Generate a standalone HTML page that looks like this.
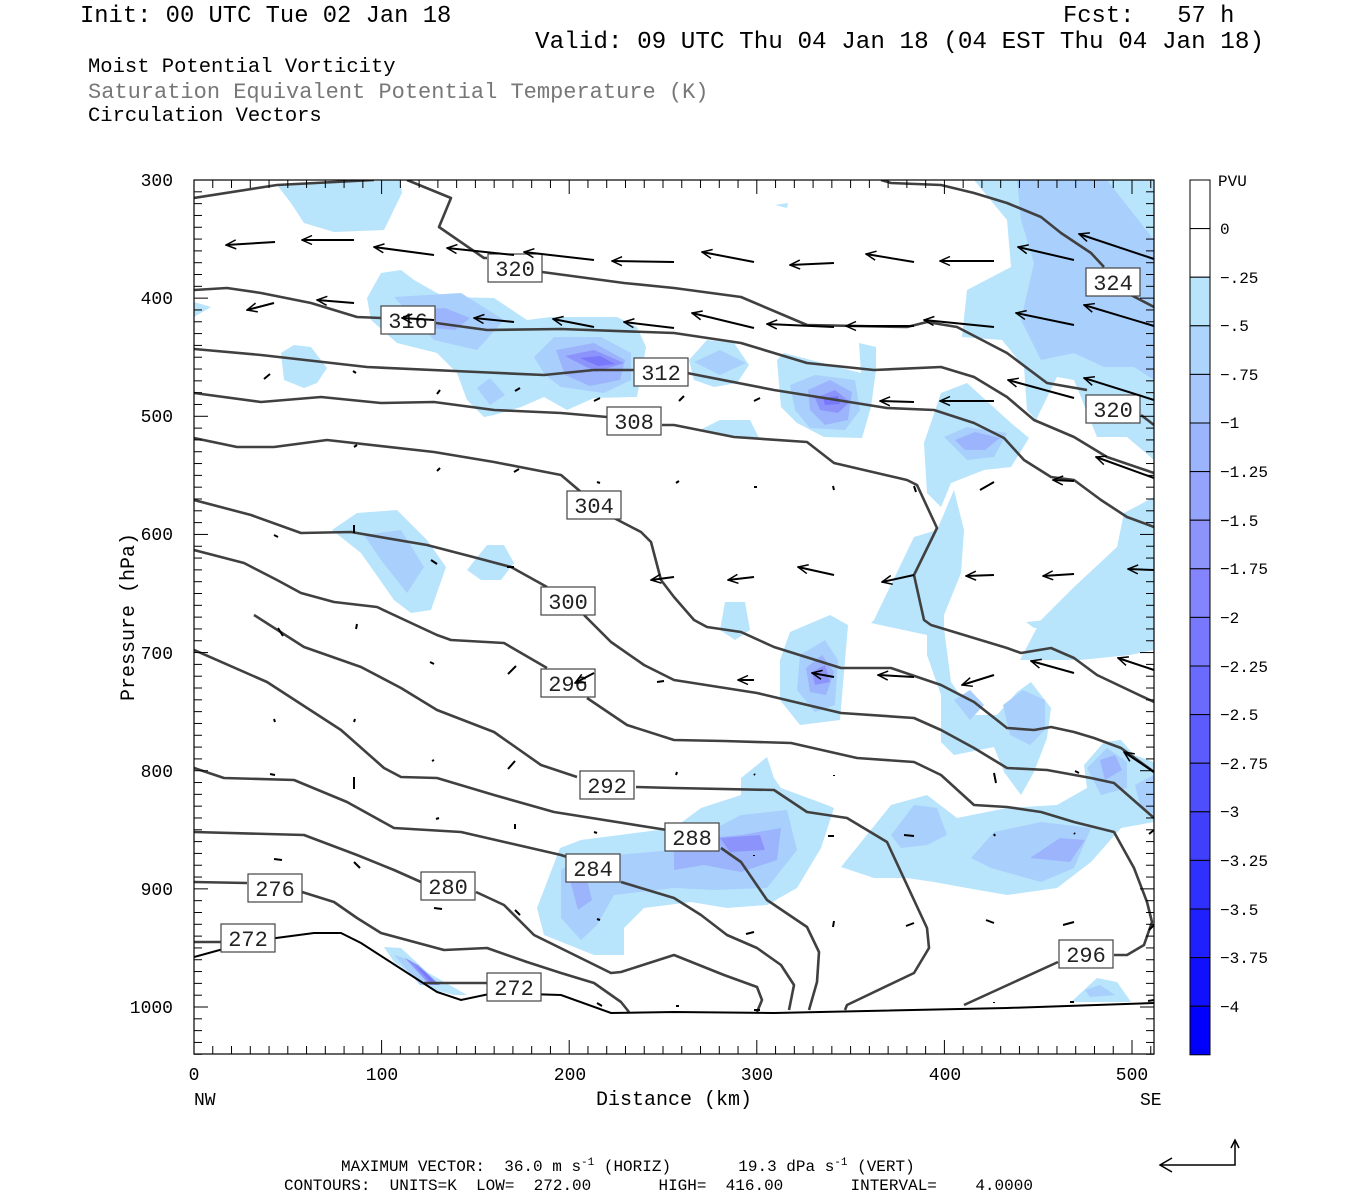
<!DOCTYPE html>
<html><head><meta charset="utf-8"><style>
html,body{margin:0;padding:0;background:#fff;}
body{width:1350px;height:1200px;position:relative;overflow:hidden;font-family:"Liberation Mono",monospace;}
.t{position:absolute;white-space:pre;color:#000;}
</style></head><body>
<div class="t" style="left:80px;top:3px;font-size:23.8px;">Init: 00 UTC Tue 02 Jan 18</div>
<div class="t" style="left:1063px;top:3px;font-size:23.8px;">Fcst:   57 h</div>
<div class="t" style="left:535px;top:29px;font-size:24.3px;">Valid: 09 UTC Thu 04 Jan 18 (04 EST Thu 04 Jan 18)</div>
<div class="t" style="left:88px;top:56px;font-size:20.5px;">Moist Potential Vorticity</div>
<div class="t" style="left:88px;top:80px;font-size:22px;color:#777;">Saturation Equivalent Potential Temperature (K)</div>
<div class="t" style="left:88px;top:105px;font-size:20.5px;">Circulation Vectors</div>

<svg width="1350" height="1200" style="position:absolute;left:0;top:0" xmlns="http://www.w3.org/2000/svg">
<defs>
<marker id="ah" markerWidth="12" markerHeight="12" refX="11" refY="5" orient="auto" markerUnits="userSpaceOnUse" viewBox="0 0 12 10">
<path d="M1,0.5 L11,5 L1,9.5" fill="none" stroke="#000" stroke-width="1.5"/>
</marker>
</defs>
<clipPath id="pc"><rect x="194" y="180" width="960" height="874"/></clipPath>
<g clip-path="url(#pc)" stroke="none">
<g fill="#b8e4fc">
<polygon points="277,185 400,180 402,193 384,230 334,232 304,223 291,203"/>
<polygon points="367,298 381,273 401,270 414,280 444,297 494,298 527,320 551,317 617,317 637,327 646,347 637,397 594,398 567,410 544,397 521,407 494,415 484,417 467,400 457,373 437,353 397,343 371,320"/>
<polygon points="194,302 211,307 194,317"/>
<polygon points="281,353 294,345 311,347 327,368 317,383 304,388 284,380"/>
<polygon points="332,530 357,513 397,510 427,540 446,567 431,610 411,613 394,600 361,553"/>
<polygon points="467,570 487,545 504,545 514,563 501,580 481,580"/>
<polygon points="689,360 707,340 734,343 749,365 737,383 714,387 694,380"/>
<polygon points="777,360 784,353 861,373 859,343 876,347 876,370 871,407 862,438 824,437 797,423 781,407"/>
<polygon points="974,180 1154,180 1154,460 1127,437 1097,437 1074,380 1057,377 1036,420 1027,410 1024,367 1002,340 962,337 967,290 1011,267 1007,220"/>
<polygon points="924,443 941,393 967,383 1011,423 1029,438 1011,467 984,470 951,483 941,507 927,493"/>
<polygon points="874,620 914,537 937,530 954,490 964,530 961,573 944,615 944,628 951,682 974,715 997,715 1017,692 1031,682 1051,708 1047,738 1034,772 1021,795 1004,772 994,747 954,755 941,742 941,695 927,655 927,635 871,623"/>
<polygon points="1154,497 1124,513 1117,547 1074,587 1041,620 1020,660 1080,660 1130,655 1154,650"/>
<polygon points="1026,622 1097,615 1094,626 1034,628"/>
<polygon points="841,867 891,805 927,795 957,818 1007,808 1057,805 1087,788 1084,765 1104,742 1121,740 1134,755 1154,762 1154,822 1121,828 1091,862 1057,888 1007,895 967,888 934,882 907,878 874,878"/>
<polygon points="537,908 560,848 581,840 674,828 701,808 741,795 741,778 767,757 774,778 781,788 827,805 834,808 821,848 797,888 767,905 727,908 691,902 644,908 624,928 624,955 594,955 544,935"/>
<polygon points="384,947 401,948 427,972 467,995 454,995 434,990 394,962"/>
<polygon points="1071,1002 1097,978 1117,982 1131,1002"/>
<polygon points="725,602 745,602 750,630 735,640 720,630"/>
<polygon points="790,632 830,615 848,625 840,720 800,725 780,700 780,660"/>
<polygon points="775,205 788,203 787,208"/>
<polygon points="700,430 720,420 750,420 760,440"/>
</g>
<g fill="#a9cffc">
<polygon points="394,297 461,293 504,320 477,350 434,340"/>
<polygon points="534,357 554,337 601,337 631,353 631,380 604,393 561,387 545,375"/>
<polygon points="477,388 490,378 505,395 490,405"/>
<polygon points="364,535 401,530 424,567 407,593 381,560"/>
<polygon points="694,362 720,350 746,363 720,375"/>
<polygon points="790,385 815,375 855,380 860,410 845,430 810,428 795,410"/>
<polygon points="1017,180 1107,180 1154,240 1154,380 1134,367 1104,367 1074,353 1041,360 1021,320 1034,263 1021,220"/>
<polygon points="944,437 967,427 1007,433 994,457 967,460"/>
<polygon points="954,700 970,690 984,705 970,720"/>
<polygon points="1003,705 1023,690 1045,700 1045,730 1030,745 1010,735"/>
<polygon points="891,835 914,805 937,808 947,835 927,845 901,848"/>
<polygon points="971,858 994,832 1041,822 1091,828 1074,868 1041,882 991,868"/>
<polygon points="1087,768 1107,748 1127,762 1127,788 1101,795"/>
<polygon points="1135,785 1154,775 1154,815 1140,805"/>
<polygon points="561,870 581,858 674,850 741,815 787,810 797,850 767,888 714,890 674,888 614,895 597,925 581,940 561,918"/>
<polygon points="394,955 410,960 440,985 420,985"/>
<polygon points="800,655 825,640 838,660 835,705 815,712 797,690"/>
<polygon points="1085,990 1100,985 1115,995 1090,997"/>
</g>
<g fill="#9cb4fc">
<polygon points="420,310 445,308 470,318 455,330 430,328"/>
<polygon points="556,350 594,343 625,360 620,380 590,386 565,375"/>
<polygon points="808,390 830,380 852,392 848,420 825,425 810,410"/>
<polygon points="955,440 975,432 1000,438 985,450 965,450"/>
<polygon points="1100,760 1115,755 1122,770 1105,780"/>
<polygon points="741,835 781,828 777,860 741,872 704,865 674,870 674,850 710,838"/>
<polygon points="570,880 585,872 592,900 578,910"/>
<polygon points="1030,858 1060,838 1085,840 1070,862"/>
<polygon points="806,668 822,655 834,672 826,695 810,692"/>
</g>
<g fill="#8c94fc">
<polygon points="565,356 594,350 624,363 596,372"/>
<polygon points="815,398 835,390 850,402 838,413 820,410"/>
<polygon points="812,672 825,665 830,682 815,685"/>
<polygon points="720,838 760,835 765,850 730,852"/>
<polygon points="405,958 418,965 440,985 430,985"/>
</g>
<g fill="#7878fa">
<polygon points="580,358 600,356 615,364 598,366"/>
<polygon points="823,398 838,396 840,404 825,405"/>
<polygon points="415,965 425,972 438,985 432,984"/>
</g>
</g>

<g fill="none" stroke="#404040" stroke-width="2.6" stroke-linejoin="round" clip-path="url(#pc)">
<polyline points="194,198 277,185 374,180"/>
<polyline points="407,180 451,198 439,227 484,258 487,258"/>
<polyline points="542,272 624,283 674,288 741,297 807,325 907,327 927,322 957,327 1007,353 1047,383 1087,390 1087,390"/>
<polyline points="1141,415 1154,425"/>
<polyline points="881,180 891,183 941,185 974,193 1007,203 1041,217 1061,233 1091,253 1104,267"/>
<polyline points="1131,295 1154,307"/>
<polyline points="194,290 227,288 261,293 311,303 357,317 381,318"/>
<polyline points="436,323 487,330 561,329 674,333 741,343 807,363 874,370 941,367 974,377 1007,397 1034,420 1074,437 1107,457 1154,473"/>
<polyline points="194,349 261,355 367,367 477,372 544,375 594,370 634,370"/>
<polyline points="687,373 774,390 887,408 934,410 974,423 1004,438 1024,460 1051,477 1074,480 1101,500 1127,517 1154,527"/>
<polyline points="194,393 261,402 321,397 381,403 434,402 494,410 561,413 607,417"/>
<polyline points="662,425 674,425 734,437 807,442 834,463 907,480 917,485 937,528 914,575 924,620 931,625 1007,648 1021,653 1051,648 1074,658 1097,675 1154,702"/>
<polyline points="194,438 237,447 274,447 327,440 434,452 494,462 561,475 581,492"/>
<polyline points="614,518 641,532 651,542 661,580 674,597 694,620 707,627 741,632 774,647 841,668 891,668 941,685 974,702 1007,728 1034,730 1051,727 1074,732 1094,738 1121,748 1154,772"/>
<polyline points="194,500 251,515 301,533 351,532 427,545 477,558 511,567 547,587"/>
<polyline points="584,615 611,642 644,665 674,680 757,693 841,713 914,718 941,730 974,748 1007,768 1047,770 1091,778 1114,783 1154,818"/>
<polyline points="194,550 244,563 277,580 301,593 334,602 377,607 394,615 437,635 451,640 504,643 547,668"/>
<polyline points="587,698 627,725 674,740 724,741 791,743 857,758 914,762 941,775 974,805 1007,807 1041,812 1074,822 1114,832 1134,868 1147,902 1152,922 1144,945 1127,955 1114,955"/>
<polyline points="1058,962 964,1005"/>
<polyline points="254,615 304,647 361,667 401,688 437,710 494,732 541,765 577,777"/>
<polyline points="636,787 674,788 774,790 807,812 847,818 887,842 927,928 929,948 914,973 847,1005 845,1010"/>
<polyline points="194,650 267,682 341,730 384,768 401,777 437,778 494,795 554,812 667,830"/>
<polyline points="721,848 741,862 767,900 807,927 819,952 817,982 809,1010"/>
<polyline points="194,768 224,778 294,780 347,802 394,828 461,832 561,855 567,857"/>
<polyline points="621,882 674,898 701,915 727,935 757,948 781,965 794,985 789,1010"/>
<polyline points="194,832 304,835 357,855 394,870 421,882"/>
<polyline points="476,892 504,905 534,935 611,973 621,972 674,955 724,975 757,987 762,1000 757,1012"/>
<polyline points="194,882 247,883"/>
<polyline points="302,892 334,902 357,918 381,933 444,950 487,948 527,962 561,973 594,983 621,1002 629,1012"/>
<polyline points="194,942 221,942"/>
<polyline points="424,983 487,983"/>
</g>
<g fill="none" stroke="#000" stroke-width="2" clip-path="url(#pc)">
<polyline points="194,957 227,948 261,940 314,933 341,933 361,943 437,992 461,1000 494,993 561,995 611,1013 674,1012 774,1013 1007,1008 1154,1003"/>
</g>

<g font-family="Liberation Mono, monospace" font-size="22" text-anchor="middle" fill="#222">
<g fill="#fff" stroke="#444" stroke-width="1.2">
<rect x="488" y="254" width="54" height="28"/>
<rect x="1086" y="268" width="54" height="28"/>
<rect x="381" y="306" width="54" height="28"/>
<rect x="634" y="358" width="54" height="28"/>
<rect x="1086" y="395" width="54" height="28"/>
<rect x="607" y="407" width="54" height="28"/>
<rect x="567" y="491" width="54" height="28"/>
<rect x="541" y="587" width="54" height="28"/>
<rect x="541" y="669" width="54" height="28"/>
<rect x="580" y="771" width="54" height="28"/>
<rect x="665" y="823" width="54" height="28"/>
<rect x="566" y="854" width="54" height="28"/>
<rect x="421" y="872" width="54" height="28"/>
<rect x="248" y="874" width="54" height="28"/>
<rect x="221" y="924" width="54" height="28"/>
<rect x="1059" y="940" width="54" height="28"/>
<rect x="487" y="973" width="54" height="28"/>
</g>
<text x="515" y="276">320</text>
<text x="1113" y="290">324</text>
<text x="408" y="328">316</text>
<text x="661" y="380">312</text>
<text x="1113" y="417">320</text>
<text x="634" y="429">308</text>
<text x="594" y="513">304</text>
<text x="568" y="609">300</text>
<text x="568" y="691">296</text>
<text x="607" y="793">292</text>
<text x="692" y="845">288</text>
<text x="593" y="876">284</text>
<text x="448" y="894">280</text>
<text x="275" y="896">276</text>
<text x="248" y="946">272</text>
<text x="1086" y="962">296</text>
<text x="514" y="995">272</text>
</g>

<g stroke="#000" stroke-width="2" fill="none" marker-end="url(#ah)">
<line x1="275" y1="242" x2="226" y2="245"/>
<line x1="354" y1="240" x2="302" y2="240"/>
<line x1="434" y1="255" x2="374" y2="247"/>
<line x1="514" y1="255" x2="447" y2="248"/>
<line x1="594" y1="260" x2="524" y2="252"/>
<line x1="674" y1="262" x2="612" y2="261"/>
<line x1="754" y1="262" x2="702" y2="252"/>
<line x1="834" y1="263" x2="790" y2="265"/>
<line x1="914" y1="262" x2="866" y2="254"/>
<line x1="994" y1="261" x2="940" y2="261"/>
<line x1="1074" y1="260" x2="1018" y2="247"/>
<line x1="1154" y1="259" x2="1079" y2="234"/>
<line x1="274" y1="303" x2="247" y2="310"/>
<line x1="354" y1="303" x2="317" y2="300"/>
<line x1="434" y1="320" x2="402" y2="318"/>
<line x1="514" y1="322" x2="474" y2="318"/>
<line x1="594" y1="327" x2="553" y2="319"/>
<line x1="674" y1="328" x2="624" y2="322"/>
<line x1="754" y1="328" x2="692" y2="313"/>
<line x1="834" y1="327" x2="767" y2="324"/>
<line x1="914" y1="326" x2="846" y2="326"/>
<line x1="994" y1="327" x2="924" y2="320"/>
<line x1="1074" y1="325" x2="1016" y2="313"/>
<line x1="1154" y1="326" x2="1084" y2="305"/>
<line x1="914" y1="402" x2="880" y2="401"/>
<line x1="994" y1="401" x2="940" y2="401"/>
<line x1="1074" y1="398" x2="1008" y2="380"/>
<line x1="1154" y1="400" x2="1084" y2="378"/>
<line x1="1154" y1="478" x2="1096" y2="457"/>
<line x1="1074" y1="481" x2="1053" y2="480"/>
<line x1="674" y1="577" x2="651" y2="580"/>
<line x1="754" y1="577" x2="728" y2="580"/>
<line x1="834" y1="575" x2="798" y2="567"/>
<line x1="914" y1="575" x2="882" y2="582"/>
<line x1="994" y1="575" x2="966" y2="576"/>
<line x1="1074" y1="574" x2="1043" y2="576"/>
<line x1="1154" y1="570" x2="1128" y2="569"/>
<line x1="754" y1="680" x2="738" y2="680"/>
<line x1="834" y1="677" x2="812" y2="673"/>
<line x1="914" y1="677" x2="878" y2="675"/>
<line x1="994" y1="675" x2="962" y2="685"/>
<line x1="1074" y1="673" x2="1031" y2="661"/>
<line x1="1154" y1="670" x2="1118" y2="658"/>
<line x1="1154" y1="772" x2="1124" y2="752"/>
<line x1="594" y1="673" x2="575" y2="683"/>
</g>
<g stroke="#000" stroke-width="2">
<line x1="270" y1="374" x2="264" y2="379"/><line x1="353" y1="371" x2="356" y2="373"/>
<line x1="440" y1="390" x2="437" y2="394"/><line x1="520" y1="388" x2="515" y2="391"/>
<line x1="600" y1="398" x2="594" y2="401"/><line x1="684" y1="396" x2="679" y2="401"/>
<line x1="760" y1="398" x2="754" y2="401"/><line x1="354" y1="447" x2="357" y2="445"/>
<line x1="437" y1="471" x2="440" y2="468"/><line x1="514" y1="472" x2="519" y2="469"/>
<line x1="597" y1="482" x2="600" y2="483"/><line x1="676" y1="483" x2="679" y2="481"/>
<line x1="754" y1="487" x2="757" y2="487"/><line x1="833" y1="486" x2="834" y2="490"/>
<line x1="914" y1="486" x2="916" y2="492"/><line x1="994" y1="482" x2="980" y2="490"/>
<line x1="274" y1="535" x2="278" y2="537"/><line x1="354" y1="525" x2="354" y2="533"/>
<line x1="431" y1="560" x2="437" y2="564"/><line x1="507" y1="567" x2="514" y2="567"/>
<line x1="278" y1="628" x2="283" y2="636"/><line x1="357" y1="624" x2="356" y2="629"/>
<line x1="430" y1="662" x2="434" y2="664"/><line x1="516" y1="666" x2="508" y2="674"/>
<line x1="657" y1="682" x2="664" y2="681"/><line x1="275" y1="722" x2="274" y2="719"/>
<line x1="354" y1="722" x2="355" y2="719"/><line x1="432" y1="761" x2="434" y2="760"/>
<line x1="515" y1="761" x2="508" y2="769"/><line x1="275" y1="775" x2="270" y2="774"/>
<line x1="354" y1="777" x2="354" y2="789"/><line x1="436" y1="819" x2="439" y2="818"/>
<line x1="515" y1="824" x2="515" y2="829"/><line x1="597" y1="833" x2="594" y2="832"/>
<line x1="274" y1="859" x2="282" y2="860"/><line x1="354" y1="862" x2="360" y2="868"/>
<line x1="434" y1="908" x2="442" y2="909"/><line x1="515" y1="910" x2="520" y2="915"/>
<line x1="597" y1="919" x2="600" y2="920"/><line x1="754" y1="932" x2="746" y2="934"/>
<line x1="834" y1="921" x2="833" y2="927"/><line x1="914" y1="923" x2="906" y2="926"/>
<line x1="994" y1="923" x2="986" y2="920"/><line x1="1074" y1="922" x2="1063" y2="925"/>
<line x1="754" y1="855" x2="754" y2="856"/><line x1="834" y1="836" x2="828" y2="836"/>
<line x1="914" y1="836" x2="904" y2="835"/><line x1="994" y1="834" x2="995" y2="836"/>
<line x1="1074" y1="833" x2="1075" y2="834"/><line x1="676" y1="775" x2="677" y2="772"/>
<line x1="754" y1="774" x2="755" y2="775"/><line x1="834" y1="775" x2="834" y2="776"/>
<line x1="994" y1="773" x2="996" y2="783"/><line x1="1075" y1="771" x2="1079" y2="773"/>
<line x1="1154" y1="925" x2="1149" y2="930"/><line x1="1154" y1="1000" x2="1148" y2="1001"/>
<line x1="597" y1="1003" x2="602" y2="1006"/><line x1="676" y1="1006" x2="679" y2="1006"/>
<line x1="754" y1="1010" x2="760" y2="1010"/><line x1="994" y1="1002" x2="994" y2="1003"/>
<line x1="1074" y1="1002" x2="1070" y2="1002"/><line x1="1154" y1="830" x2="1149" y2="834"/>
</g>

<rect x="194" y="180" width="960" height="874" fill="none" stroke="#000" stroke-width="1.2"/>
<g id="ticks" stroke="#000" stroke-width="1"></g>

<g font-family="Liberation Mono, monospace" font-size="18" fill="#000">
<text x="173" y="186" text-anchor="end">300</text>
<text x="173" y="304" text-anchor="end">400</text>
<text x="173" y="422" text-anchor="end">500</text>
<text x="173" y="540" text-anchor="end">600</text>
<text x="173" y="659" text-anchor="end">700</text>
<text x="173" y="777" text-anchor="end">800</text>
<text x="173" y="895" text-anchor="end">900</text>
<text x="173" y="1013" text-anchor="end">1000</text>
<text x="194" y="1080" text-anchor="middle">0</text>
<text x="382" y="1080" text-anchor="middle">100</text>
<text x="570" y="1080" text-anchor="middle">200</text>
<text x="757" y="1080" text-anchor="middle">300</text>
<text x="945" y="1080" text-anchor="middle">400</text>
<text x="1132" y="1080" text-anchor="middle">500</text>
<text x="194" y="1105">NW</text>
<text x="1140" y="1105">SE</text>
<text x="674" y="1105" text-anchor="middle" font-size="20">Distance (km)</text>
<text transform="translate(134,617) rotate(-90)" text-anchor="middle" font-size="20">Pressure (hPa)</text>
</g>

<g stroke="#000" stroke-width="1">
<rect x="1190" y="180" width="20" height="48.6" fill="#fff"/>
<rect x="1190" y="228.6" width="20" height="48.6" fill="#fff"/>
<rect x="1190" y="277.2" width="20" height="48.6" fill="#b8e4fc"/>
<rect x="1190" y="325.8" width="20" height="48.6" fill="#acd4fc"/>
<rect x="1190" y="374.4" width="20" height="48.6" fill="#a6c6fc"/>
<rect x="1190" y="423" width="20" height="48.6" fill="#9cb4fc"/>
<rect x="1190" y="471.6" width="20" height="48.6" fill="#94a4fc"/>
<rect x="1190" y="520.2" width="20" height="48.6" fill="#8c94fc"/>
<rect x="1190" y="568.8" width="20" height="48.6" fill="#8484fc"/>
<rect x="1190" y="617.4" width="20" height="48.6" fill="#7878fc"/>
<rect x="1190" y="666" width="20" height="48.6" fill="#6a6afc"/>
<rect x="1190" y="714.6" width="20" height="48.6" fill="#5c5cfc"/>
<rect x="1190" y="763.2" width="20" height="48.6" fill="#4e4efc"/>
<rect x="1190" y="811.8" width="20" height="48.6" fill="#4040fc"/>
<rect x="1190" y="860.4" width="20" height="48.6" fill="#3030fc"/>
<rect x="1190" y="909" width="20" height="48.6" fill="#2020fc"/>
<rect x="1190" y="957.6" width="20" height="48.6" fill="#1010fc"/>
<rect x="1190" y="1006.2" width="20" height="48.6" fill="#0000fc"/>
</g>
<g font-family="Liberation Mono, monospace" font-size="16" fill="#000">
<text x="1218" y="186">PVU</text>
<text x="1220" y="234">0</text>
<text x="1220" y="283">−.25</text>
<text x="1220" y="331">−.5</text>
<text x="1220" y="380">−.75</text>
<text x="1220" y="428">−1</text>
<text x="1220" y="477">−1.25</text>
<text x="1220" y="526">−1.5</text>
<text x="1220" y="574">−1.75</text>
<text x="1220" y="623">−2</text>
<text x="1220" y="672">−2.25</text>
<text x="1220" y="720">−2.5</text>
<text x="1220" y="769">−2.75</text>
<text x="1220" y="817">−3</text>
<text x="1220" y="866">−3.25</text>
<text x="1220" y="915">−3.5</text>
<text x="1220" y="963">−3.75</text>
<text x="1220" y="1012">−4</text>
</g>

<g font-family="Liberation Mono, monospace" font-size="16" fill="#000">
<text x="341" y="1171" xml:space="preserve">MAXIMUM VECTOR:  36.0 m s<tspan dy="-6" font-size="11">-1</tspan><tspan dy="6"> (HORIZ)       19.3 dPa s</tspan><tspan dy="-6" font-size="11">-1</tspan><tspan dy="6"> (VERT)</tspan></text>
<text x="284" y="1190" xml:space="preserve">CONTOURS:  UNITS=K  LOW=  272.00       HIGH=  416.00       INTERVAL=    4.0000</text>
</g>
<g stroke="#000" stroke-width="1.5" fill="none">
<polyline points="1235,1140 1235,1165 1160,1165"/>
<path d="M1172,1158 L1160,1165 L1172,1172"/>
<path d="M1231,1148 L1235,1140 L1239,1148"/>
</g>
</svg>
<script>
(function(){
var g=document.getElementById('ticks'),s='';
for(var p=300;p<=1040;p+=10){var y=180+(p-300)*827/700;var L=(p%100==0)?14:8;
s+='<line x1="194" y1="'+y+'" x2="'+(194+L)+'" y2="'+y+'"/>';
s+='<line x1="1154" y1="'+y+'" x2="'+(1154-L)+'" y2="'+y+'"/>';}
for(var d=0;d<=510;d+=10){var x=194+d*1.876;var L=(d%100==0)?14:8;
s+='<line x1="'+x+'" y1="1054" x2="'+x+'" y2="'+(1054-L)+'"/>';
s+='<line x1="'+x+'" y1="180" x2="'+x+'" y2="'+(180+L)+'"/>';}
g.innerHTML=s;})();
</script>
</body></html>
